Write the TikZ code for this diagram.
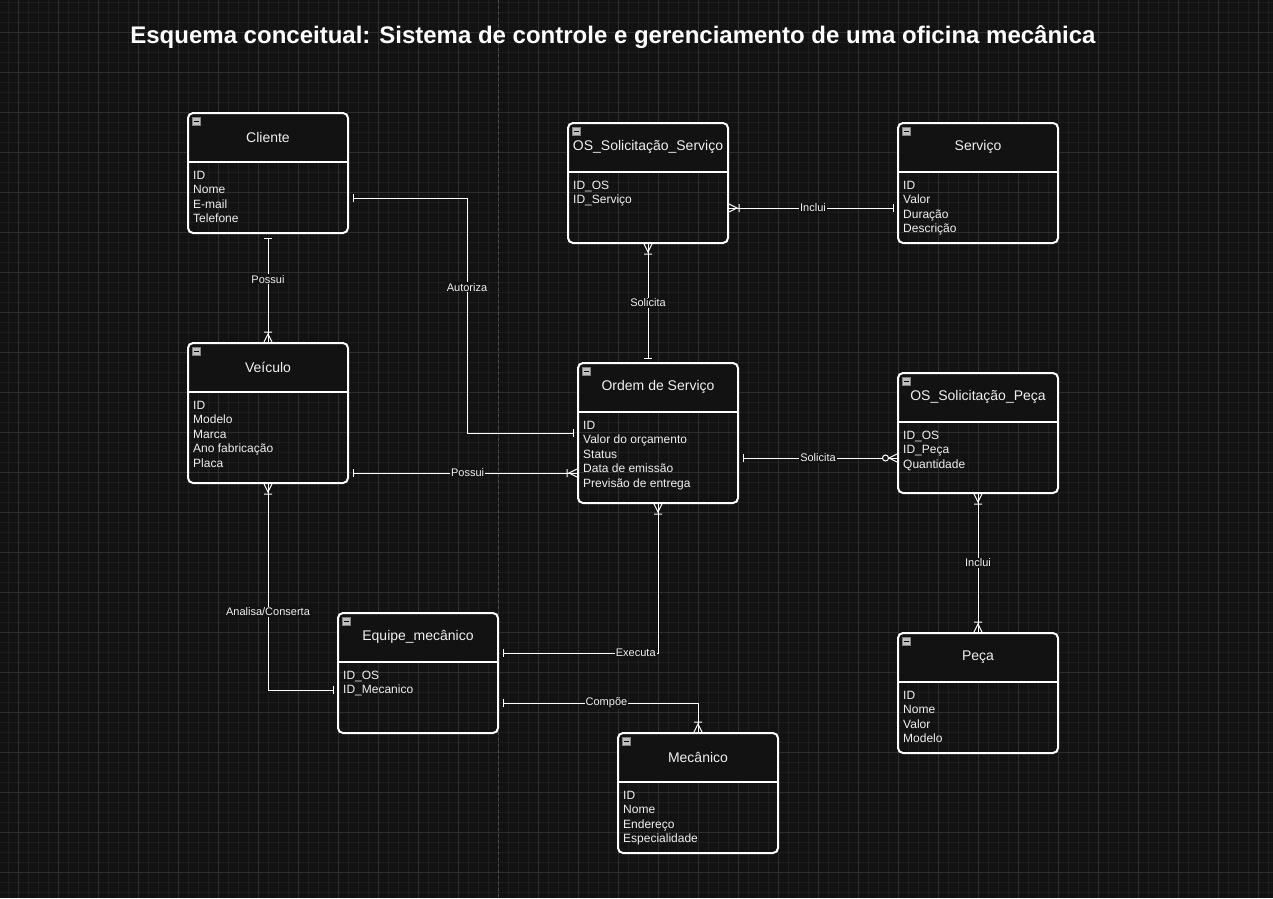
\documentclass[tikz,border=0pt]{standalone}
\usepackage{fontspec}
\setmainfont{Liberation Sans}
\usetikzlibrary{positioning,decorations.markings}

\definecolor{canvas}{HTML}{121212}
\definecolor{gridfine}{HTML}{1D1D1D}
\definecolor{gridbold}{HTML}{2E2E2E}
\definecolor{inkc}{HTML}{F0F0F0}
\definecolor{pagebreak}{HTML}{4A4A4A}

\tikzset{
    er-frame/.style = {draw=white, line width=2pt, rounded corners=5pt, minimum width=160pt, inner sep=0pt},
    er-head/.style = {fill=canvas, text=inkc, minimum width=158pt, minimum height=50pt, inner sep=0pt, font=\fontsize{14}{16}\selectfont},
    er-attr/.style = {text=inkc, align=left, inner sep=0pt, font=\fontsize{12}{14.5}\selectfont},
    er-icon/.style = {draw=gray, fill=lightgray, minimum size=8pt, inner sep=0pt, line width=0.5pt,
        path picture={\draw[black, line width=1pt] ([xshift=1.5pt]path picture bounding box.west) -- ([xshift=-1.5pt]path picture bounding box.east);}},
    er-line/.style = {draw=white, line width=1pt},
    er-tip/.style = {draw=white, line width=1pt, shorten <=0pt, shorten >=0pt},
    er-label/.style = {fill=canvas, text=inkc, inner sep=1pt, font=\fontsize{11}{13}\selectfont},
    er-title/.style = {text=white, font=\fontsize{24}{28}\selectfont\bfseries},
    % cardinality ends: A = start of the path, B = end of the path
    oneA/.style = {shorten <=4pt, postaction={decorate, decoration={markings,
        mark=at position 0 with {\draw[er-tip] (4pt,-4pt) -- (4pt,4pt);}}}},
    oneB/.style = {shorten >=4pt, postaction={decorate, decoration={markings,
        mark=at position 1 with {\draw[er-tip] (-4pt,-4pt) -- (-4pt,4pt);}}}},
    manyA/.style = {postaction={decorate, decoration={markings,
        mark=at position 0 with {\draw[er-tip] (0,-4pt) -- (8pt,0) -- (0,4pt) (10pt,-4pt) -- (10pt,4pt);}}}},
    manyB/.style = {postaction={decorate, decoration={markings,
        mark=at position 1 with {\draw[er-tip] (0,-4pt) -- (-8pt,0) -- (0,4pt) (-10pt,-4pt) -- (-10pt,4pt);}}}},
    zmanyB/.style = {postaction={decorate, decoration={markings,
        mark=at position 1 with {\draw[er-tip] (0,-4pt) -- (-8pt,0) -- (0,4pt); \draw[er-tip, fill=canvas] (-11.5pt,0) circle (3pt);}}}},
}

% #1 name, #2 centre x, #3 top y, #4 height, #5 title, #6 attributes
\newcommand{\erentity}[6]{%
    \node[er-head, anchor=north] (#1-h) at (#2,#3) {#5};
    \node[er-frame, anchor=north, minimum height=#4] (#1) at (#2,#3) {};
    \coordinate (#1-d) at (#1.west |- #1-h.south);
    \draw[white, line width=2pt] (#1-d) -- (#1.east |- #1-h.south);
    \node[er-attr, anchor=north west] (#1-a) at ([xshift=6pt, yshift=-8.5pt]#1-d) {#6};
    \node[er-icon] (#1-i) at ([xshift=9pt, yshift=-9pt]#1.north west) {};
}

\begin{document}
\begin{tikzpicture}[x=1pt, y=-1pt]
\useasboundingbox[fill=canvas] (0,0) rectangle (1273,898);

% grid
\foreach \gx in {8,18,...,1268} \draw[gridfine] (\gx,0) -- (\gx,898);
\foreach \gy in {2,12,...,892} \draw[gridfine] (0,\gy) -- (1273,\gy);
\foreach \gx in {18,58,...,1258} \draw[gridbold] (\gx,0) -- (\gx,898);
\foreach \gy in {32,72,...,872} \draw[gridbold] (0,\gy) -- (1273,\gy);
\draw[pagebreak, dash pattern=on 3pt off 3pt] (498,0) -- (498,898);

\node[er-title] (ttl) at (613,37) {Esquema conceitual: Sistema de controle e gerenciamento de uma oficina mecânica};

% entities
\erentity{cli}{268}{112}{120}{Cliente}{ID\\Nome\\E-mail\\Telefone}
\erentity{vei}{268}{342}{140}{Veículo}{ID\\Modelo\\Marca\\Ano fabricação\\Placa}
\erentity{oss}{648}{122}{120}{OS\_Solicitação\_Serviço}{ID\_OS\\ID\_Serviço}
\erentity{srv}{978}{122}{120}{Serviço}{ID\\Valor\\Duração\\Descrição}
\erentity{ord}{658}{362}{140}{Ordem de Serviço}{ID\\Valor do orçamento\\Status\\Data de emissão\\Previsão de entrega}
\erentity{osp}{978}{372}{120}{OS\_Solicitação\_Peça}{ID\_OS\\ID\_Peça\\Quantidade}
\erentity{eqp}{418}{612}{120}{Equipe\_mecânico}{ID\_OS\\ID\_Mecanico}
\erentity{pec}{978}{632}{120}{Peça}{ID\\Nome\\Valor\\Modelo}
\erentity{mec}{698}{732}{120}{Mecânico}{ID\\Nome\\Endereço\\Especialidade}

% relationships
\draw[er-line, oneA, manyB] (cli) -- node[er-label, pos=0.42] {Possui} (vei);
\draw[er-line, oneA, oneB] ([yshift=-25pt]cli.east) -| node[er-label, pos=0.69] {Autoriza} ([xshift=-110pt]ord.west) -- (ord.west);
\draw[er-line, oneA, manyB] ([yshift=-60pt]vei.east) -- node[er-label, pos=0.52] {Possui} ([yshift=-40pt]ord.west);
\draw[er-line, manyA, oneB] (vei.south) |- node[er-label, pos=0.31] {Analisa/Conserta} ([yshift=-17pt]eqp.west);
\draw[er-line, manyA, oneB] (oss.south) -- node[er-label] {Solicita} (oss.south |- ord.north);
\draw[er-line, manyA, oneB] ([yshift=-25pt]oss.east) -- node[er-label] {Inclui} ([yshift=-25pt]srv.west);
\draw[er-line, oneA, zmanyB] ([yshift=-25pt]ord.east) -- node[er-label] {Solicita} ([yshift=-25pt]osp.west);
\draw[er-line, manyA, manyB] (osp) -- node[er-label] {Inclui} (pec);
\draw[er-line, manyA, oneB] (ord.south) |- node[er-label, pos=0.57] {Executa} ([yshift=20pt]eqp.east);
\draw[er-line, oneA, manyB] ([yshift=-30pt]eqp.east) -| node[er-label, pos=0.27] {Compõe} (mec.north);
\end{tikzpicture}
\end{document}
